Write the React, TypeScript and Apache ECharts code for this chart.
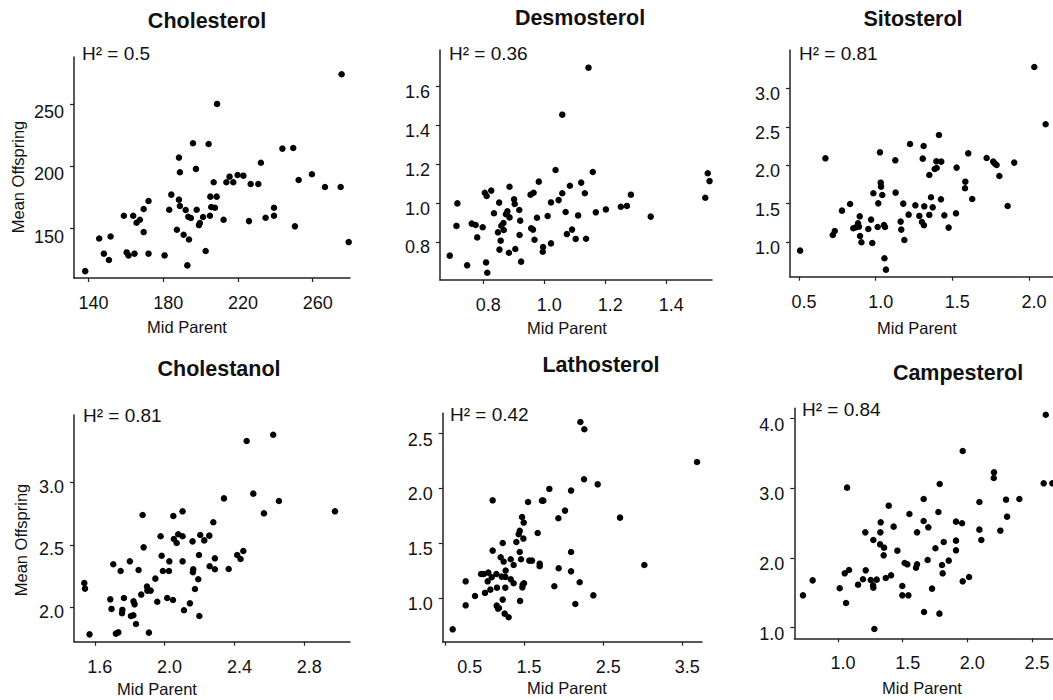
import React, { useEffect, useRef } from "react";
import * as echarts from "echarts";

// ---- data (Mid Parent, Mean Offspring) ----
const cholesterol: [number, number][] = [
  [138.2,116],[145.7,142.2],[148.2,130.0],[150.9,124.9],[151.8,143.8],[158.9,160.4],[160.4,131.0],[161.4,128.6],
  [163.9,160.4],[164.6,130.0],[165.7,154.8],[167.5,157.2],[169.5,147.3],[169.5,165.8],[172.1,172.2],[172.1,130.0],
  [180.7,128.6],[183.2,165.2],[184.3,177.3],[187.3,149.2],[188.4,207.0],[188.4,173.3],[188.9,195.2],[188.9,168.2],
  [190.9,145.2],[192.0,165.0],[192.9,120.6],[193.8,141.4],[193.4,159.6],[194.8,158.6],[195.9,218.5],[197.5,197.9],
  [197.9,165.2],[199.1,152.9],[199.6,154.5],[201.3,159.4],[202.7,132.1],[204.3,217.9],[205.0,160.4],[205.2,175.7],
  [205.7,167.4],[207.0,187.2],[207.7,166.8],[208.6,175.7],[208.8,250.0],[212.3,157.2],[213.8,187.2],[215.5,191.7],
  [217.5,187.2],[219.8,193.0],[222.9,192.5],[225.9,156.1],[226.8,185.8],[230.9,185.8],[232.3,202.9],[234.8,158.8],
  [239.3,166.8],[239.3,160.4],[243.8,214.2],[249.6,214.7],[250.5,151.9],[252.5,189.0],[259.6,193.6],[266.6,183.4],
  [275.0,183.4],[275.5,273.8],[279.3,139.3]
];
const desmosterol: [number, number][] = [
  [0.690,0.729],[0.712,0.882],[0.715,0.998],[0.747,0.679],[0.762,0.894],[0.775,0.887],[0.780,0.823],[0.798,0.875],
  [0.805,1.053],[0.811,1.036],[0.809,0.694],[0.813,0.641],[0.826,1.064],[0.835,0.947],[0.848,0.849],[0.852,1.002],
  [0.853,0.760],[0.857,0.806],[0.859,0.883],[0.866,0.897],[0.867,0.861],[0.874,0.942],[0.879,0.957],[0.886,0.926],
  [0.884,0.744],[0.886,1.084],[0.901,1.019],[0.903,0.995],[0.905,0.763],[0.918,0.964],[0.919,0.835],[0.921,0.909],
  [0.924,0.698],[0.957,0.870],[0.963,0.863],[0.955,1.043],[0.965,1.053],[0.968,0.811],[0.976,0.924],[0.982,1.110],
  [0.996,0.773],[0.995,0.749],[1.011,0.933],[1.022,0.792],[1.022,1.003],[1.037,1.170],[1.047,1.015],[1.059,1.050],
  [1.059,1.455],[1.070,0.954],[1.074,0.840],[1.084,1.089],[1.091,0.863],[1.103,0.815],[1.111,0.936],[1.121,1.105],
  [1.133,1.050],[1.137,0.816],[1.145,1.697],[1.159,1.160],[1.169,0.952],[1.202,0.967],[1.251,0.981],[1.271,0.985],
  [1.284,1.043],[1.349,0.930],[1.536,1.153],[1.542,1.113],[1.528,1.027]
];
const sitosterol: [number, number][] = [
  [0.507,0.889],[0.672,2.091],[0.720,1.093],[0.733,1.145],[0.780,1.410],[0.833,1.497],[0.854,1.180],[0.872,1.193],
  [0.885,1.245],[0.891,1.202],[0.896,1.336],[0.898,1.080],[0.907,0.998],[0.952,1.171],[0.970,1.293],[0.978,0.989],
  [0.985,1.636],[1.013,1.197],[1.017,1.505],[1.028,2.169],[1.033,1.774],[1.035,1.722],[1.043,1.614],[1.054,1.223],
  [1.061,1.197],[1.057,0.790],[1.067,0.642],[1.128,2.065],[1.130,1.644],[1.163,1.267],[1.167,1.163],[1.180,1.501],
  [1.187,1.028],[1.215,1.358],[1.224,2.278],[1.259,1.479],[1.285,1.341],[1.302,1.262],[1.307,2.087],[1.313,2.252],
  [1.315,1.219],[1.317,1.466],[1.350,1.874],[1.350,1.354],[1.361,1.584],[1.372,1.453],[1.385,1.952],[1.398,1.965],
  [1.396,2.052],[1.413,2.395],[1.426,1.557],[1.428,2.048],[1.448,1.349],[1.476,1.189],[1.524,1.375],[1.528,1.970],
  [1.585,1.787],[1.583,1.701],[1.604,2.156],[1.630,1.562],[1.724,2.095],[1.767,2.048],[1.776,2.026],[1.789,2.004],
  [1.807,1.861],[1.861,1.471],[1.904,2.035],[2.035,3.280],[2.109,2.534]
];
const cholestanol: [number, number][] = [
  [1.540,2.195],[1.544,2.150],[1.570,1.783],[1.689,2.064],[1.696,1.987],[1.706,2.345],[1.721,1.789],[1.735,1.799],
  [1.748,2.291],[1.756,1.952],[1.758,1.979],[1.767,2.075],[1.801,2.369],[1.807,1.930],[1.821,1.936],[1.822,2.048],
  [1.828,2.024],[1.836,1.866],[1.851,2.299],[1.866,2.102],[1.874,2.741],[1.880,2.481],[1.899,2.166],[1.901,2.134],
  [1.910,1.797],[1.920,2.134],[1.947,2.230],[1.958,2.045],[1.977,2.570],[1.983,2.414],[1.990,2.291],[2.015,2.075],
  [2.025,2.291],[2.027,2.369],[2.048,2.059],[2.050,2.733],[2.053,2.548],[2.069,2.516],[2.078,2.586],[2.103,2.570],
  [2.103,2.770],[2.103,2.369],[2.111,1.976],[2.145,2.032],[2.160,2.529],[2.164,2.305],[2.162,2.281],[2.174,2.147],
  [2.193,2.225],[2.197,2.420],[2.199,1.930],[2.204,2.580],[2.227,2.537],[2.256,2.575],[2.258,2.329],[2.279,2.682],
  [2.288,2.393],[2.288,2.305],[2.340,2.874],[2.367,2.307],[2.416,2.420],[2.435,2.388],[2.451,2.452],[2.470,3.334],
  [2.508,2.912],[2.569,2.754],[2.622,3.385],[2.655,2.853],[2.976,2.770]
];
const lathosterol: [number, number][] = [
  [0.599,0.715],[0.763,1.153],[0.763,0.934],[0.881,1.019],[0.957,1.220],[0.991,1.220],[1.007,1.047],[1.041,1.153],
  [1.049,1.232],[1.075,1.077],[1.092,1.190],[1.104,1.892],[1.104,1.433],[1.151,1.220],[1.159,1.095],[1.155,0.931],
  [1.172,0.904],[1.184,0.910],[1.205,1.372],[1.218,1.196],[1.231,1.503],[1.231,0.986],[1.243,1.333],[1.264,1.193],
  [1.268,1.251],[1.264,1.095],[1.256,0.858],[1.306,0.825],[1.332,1.354],[1.332,1.171],[1.369,1.135],[1.369,1.302],
  [1.403,1.512],[1.433,1.582],[1.446,1.613],[1.446,1.421],[1.450,0.974],[1.462,1.354],[1.479,1.098],[1.483,1.123],
  [1.475,1.740],[1.492,1.543],[1.496,1.689],[1.500,1.135],[1.551,1.877],[1.567,1.342],[1.601,1.342],[1.673,1.594],
  [1.698,1.290],[1.698,1.314],[1.727,1.889],[1.744,1.889],[1.820,1.996],[1.883,1.108],[1.934,1.728],[1.938,1.272],
  [2.018,1.798],[2.094,1.981],[2.094,1.421],[2.094,1.244],[2.148,0.946],[2.203,1.144],[2.212,2.607],[2.262,2.540],
  [2.258,2.084],[2.376,1.025],[2.431,2.038],[2.713,1.734],[3.020,1.302],[3.685,2.242]
];
const campesterol: [number, number][] = [
  [0.729,1.464],[0.804,1.679],[1.013,1.565],[1.052,1.780],[1.062,1.354],[1.070,3.010],[1.085,1.828],[1.155,1.617],
  [1.193,1.694],[1.211,2.368],[1.214,1.823],[1.253,1.684],[1.273,2.258],[1.271,1.608],[1.273,1.574],[1.281,0.981],
  [1.299,1.689],[1.325,2.196],[1.327,2.368],[1.330,2.512],[1.356,2.148],[1.353,2.038],[1.369,1.713],[1.392,2.751],
  [1.410,1.751],[1.430,2.450],[1.459,2.105],[1.497,1.598],[1.497,1.464],[1.515,1.928],[1.536,1.909],[1.544,1.464],
  [1.552,2.632],[1.603,1.861],[1.611,1.909],[1.611,2.368],[1.662,2.847],[1.662,2.531],[1.665,1.225],[1.693,1.971],
  [1.698,2.440],[1.727,1.560],[1.753,2.139],[1.776,2.660],[1.786,3.062],[1.784,1.201],[1.804,1.900],[1.809,1.780],
  [1.817,2.230],[1.856,1.962],[1.912,2.522],[1.912,2.249],[1.912,2.110],[1.959,2.498],[1.964,3.536],[1.964,1.665],
  [2.013,1.727],[2.093,2.804],[2.093,2.407],[2.108,2.258],[2.206,3.230],[2.204,3.148],[2.255,2.392],[2.299,2.837],
  [2.307,2.593],[2.402,2.847],[2.590,3.072],[2.606,4.057],[2.657,3.072]
];

const titles = ["Cholesterol", "Desmosterol", "Sitosterol", "Cholestanol", "Lathosterol", "Campesterol"];
const heritability = ["0.5", "0.36", "0.81", "0.81", "0.42", "0.84"];
const xTicks = [
  [140, 180, 220, 260], [0.8, 1.0, 1.2, 1.4], [0.5, 1.0, 1.5, 2.0],
  [1.6, 2.0, 2.4, 2.8], [0.5, 1.5, 2.5, 3.5], [1.0, 1.5, 2.0, 2.5]
];
const yTicks = [
  [150, 200, 250], [0.6, 0.8, 1.0, 1.2, 1.4, 1.6], [1.0, 1.5, 2.0, 2.5, 3.0],
  [2.0, 2.5, 3.0], [1.0, 1.5, 2.0, 2.5], [1.0, 2.0, 3.0, 4.0]
];
const datasets = [cholesterol, desmosterol, sitosterol, cholestanol, lathosterol, campesterol];

// ---- layout ----
const layout: any[] = [
  { grid: { left: 74, top: 57, width: 276, height: 221 }, x: [132.2, 280.0], y: [110.5, 287.6], dec: 0, yShift: 16,
    title: [207, 21], h: [82, 53], xname: [187, 327], yname: [18, 177] },
  { grid: { left: 440, top: 50, width: 272, height: 230 }, x: [0.658, 1.550], y: [0.6035, 1.788], dec: 1, yShift: 11,
    title: [580, 18], h: [449, 53], xname: [567, 328] },
  { grid: { left: 790, top: 50, width: 263, height: 226.7 }, x: [0.441, 2.157], y: [0.55, 3.501], dec: 1, yShift: 12,
    title: [913, 19], h: [799, 53], xname: [917, 328] },
  { grid: { left: 74, top: 415, width: 276, height: 226.7 }, x: [1.481, 3.062], y: [1.724, 3.543], dec: 1, yShift: 9,
    title: [219, 369], h: [83, 415], xname: [157, 689], yname: [21, 540] },
  { grid: { left: 442.7, top: 413.3, width: 259.3, height: 228.4 }, x: [0.473, 3.748], y: [0.602, 2.686], dec: 1, yShift: 12,
    title: [601, 365], h: [450, 414], xname: [567, 688] },
  { grid: { left: 794.3, top: 408.3, width: 258.7, height: 230 }, x: [0.662, 2.662], y: [0.847, 4.149], dec: 1, yShift: 12,
    title: [958, 373], h: [802, 409], xname: [922, 688] }
];

const FONT = "'Liberation Sans', Arial, Helvetica, sans-serif";
const INK = "#111";

export default function App() {
  const ref = useRef<HTMLDivElement>(null);
  useEffect(() => {
    if (!ref.current) return;
    const chart = echarts.init(ref.current, undefined, { renderer: "svg" });
    const axisLine = { show: true, onZero: false, lineStyle: { color: "#222", width: 1.5 } };
    const axisTick = (vals: number[]) => ({ show: true, length: 4, inside: false, lineStyle: { color: "#222", width: 1.2 }, customValues: vals });
    const txt = { fontSize: 18, color: INK, fontFamily: FONT };

    const grids = layout.map((l) => ({ ...l.grid, containLabel: false, outerBoundsMode: "none" }));
    const xAxes = layout.map((l, i) => ({
      type: "value", gridIndex: i, min: l.x[0], max: l.x[1],
      axisLine, axisTick: axisTick(xTicks[i]), splitLine: { show: false },
      axisLabel: {
        customValues: xTicks[i], margin: 16, ...txt,
        formatter: (v: number) => {
          const s = v.toFixed(l.dec);
          if (i === 4 && Math.abs(v - 0.5) < 1e-9) return "{f|" + s + "}";
          return "{v|" + s + "}";
        },
        rich: {
          v: { ...txt, padding: [0, 0, 0, 10] },
          f: { ...txt, padding: [0, 0, 0, 50] }
        }
      }
    }));
    const yAxes = layout.map((l, i) => ({
      type: "value", gridIndex: i, min: l.y[0], max: l.y[1],
      axisLine, axisTick: axisTick(yTicks[i]), splitLine: { show: false },
      axisLabel: {
        customValues: yTicks[i], margin: 10, ...txt,
        formatter: (v: number) => "{v|" + v.toFixed(l.dec) + "}",
        rich: { v: { ...txt, padding: [l.yShift, 0, 0, 0] } }
      }
    }));
    const series = datasets.map((d, i) => ({
      type: "scatter", xAxisIndex: i, yAxisIndex: i, data: d, clip: false,
      symbol: "circle", symbolSize: 6.5, itemStyle: { color: "#000", opacity: 1 }, silent: true
    }));

    const graphic: any[] = [];
    layout.forEach((l, i) => {
      graphic.push({
        type: "text", x: l.title[0], y: l.title[1],
        style: { text: titles[i], fontSize: 21.5, fontWeight: "bold", fontFamily: FONT, fill: INK, textAlign: "center", textVerticalAlign: "middle" }
      });
      graphic.push({
        type: "text", x: l.h[0], y: l.h[1],
        style: { text: "H² = " + heritability[i], fontSize: 19, fontFamily: FONT, fill: INK, textAlign: "left", textVerticalAlign: "middle" }
      });
      graphic.push({
        type: "text", x: l.xname[0], y: l.xname[1],
        style: { text: "Mid Parent", fontSize: 16.5, fontFamily: FONT, fill: INK, textAlign: "center", textVerticalAlign: "middle" }
      });
      if (l.yname) {
        graphic.push({
          type: "text", x: l.yname[0], y: l.yname[1], rotation: Math.PI / 2,
          style: { text: "Mean Offspring", fontSize: 16.5, fontFamily: FONT, fill: INK, textAlign: "center", textVerticalAlign: "middle" }
        });
      }
    });

    chart.setOption({
      animation: false,
      backgroundColor: "#fff",
      grid: grids,
      xAxis: xAxes,
      yAxis: yAxes,
      series,
      graphic
    } as any);
    return () => chart.dispose();
  }, []);
  return (
    <div
      ref={ref}
      style={{ position: "absolute", left: 0, top: 0, width: 1053, height: 700, background: "#fff" }}
    />
  );
}
